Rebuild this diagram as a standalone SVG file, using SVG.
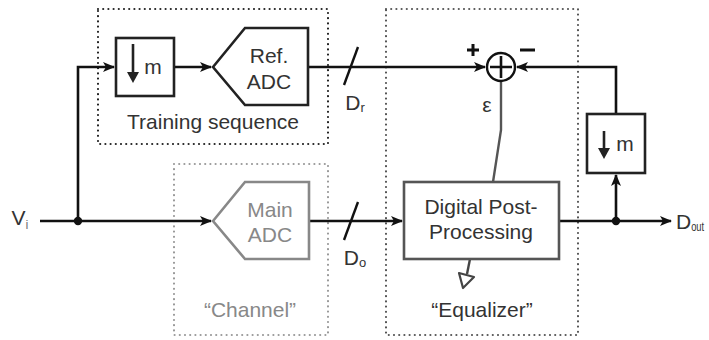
<svg xmlns="http://www.w3.org/2000/svg" width="709" height="340" viewBox="0 0 709 340">
  <defs>
    <marker id="arr" viewBox="0 0 12 10" refX="11" refY="5" markerWidth="12" markerHeight="10" markerUnits="userSpaceOnUse" orient="auto">
      <path d="M0,0 L12,5 L0,10 L3,5 Z" fill="#111"/>
    </marker>
    <style>
      .t { font-family: "Liberation Sans", Arial, sans-serif; font-size: 21px; fill: #333; text-anchor: middle; }
      .g { fill: #888; }
      .wire { fill: none; stroke: #111; stroke-width: 2.6; }
      .blk { fill: #fff; stroke: #222; stroke-width: 2.6; }
      .dot { fill: none; stroke-width: 2.2; stroke-linecap: round; stroke-dasharray: 0 5.2; }
    </style>
  </defs>

  <!-- dotted grouping frames -->
  <rect id="frame-training" class="dot" x="98" y="9" width="230" height="135" stroke="#222"/>
  <rect id="frame-channel" class="dot" x="174" y="164" width="154" height="171" stroke="#999"/>
  <rect id="frame-equalizer" class="dot" x="386" y="9" width="192" height="326" stroke="#555"/>
  <text class="t" x="213" y="129">Training sequence</text>
  <text class="t g" x="250" y="317">“Channel”</text>
  <text class="t" x="482" y="317">“Equalizer”</text>

  <!-- connectors -->
  <g id="connectors">
    <path class="wire" d="M40,221 H211" marker-end="url(#arr)"/>
    <path class="wire" d="M78,221 V67 H114" marker-end="url(#arr)"/>
    <path class="wire" d="M174,67 H211" marker-end="url(#arr)"/>
    <path class="wire" d="M308,67 H485" marker-end="url(#arr)"/>
    <path class="wire" d="M309,221 H402" marker-end="url(#arr)"/>
    <path class="wire" d="M559,221 H671" marker-end="url(#arr)"/>
    <path class="wire" d="M616,221 V175" marker-end="url(#arr)"/>
    <path class="wire" d="M616,114 V67 H517" marker-end="url(#arr)"/>
    <path d="M501,81 V130 L493,182" fill="none" stroke="#555" stroke-width="2.4"/>
    <!-- tap arrow out of the post-processor -->
    <path d="M470,259 L467,274" fill="none" stroke="#444" stroke-width="2.4"/>
    <path d="M459,273 L474,277 L463,288 Z" fill="#fff" stroke="#444" stroke-width="2.2" stroke-linejoin="round"/>
    <!-- bus slashes -->
    <path d="M358,47 L344,85" stroke="#111" stroke-width="2.4"/>
    <path d="M358,202 L344,240" stroke="#111" stroke-width="2.4"/>
    <circle cx="78" cy="221" r="4.2" fill="#111"/>
    <circle cx="616" cy="221" r="4.2" fill="#111"/>
  </g>

  <!-- signal labels -->
  <text class="t" x="20" y="225">V<tspan font-size="13" dy="4" fill="#777">i</tspan></text>
  <text class="t" x="355" y="110">D<tspan font-size="13" dy="2">r</tspan></text>
  <text class="t" x="355" y="265">D<tspan font-size="13" dy="2">o</tspan></text>
  <text class="t" x="676" y="229" style="text-anchor:start">D<tspan font-size="12" dy="2" textLength="13" lengthAdjust="spacingAndGlyphs">out</tspan></text>

  <g id="decim-ref">
    <rect class="blk" x="116" y="38" width="58" height="58"/>
    <path d="M133,44 V75" stroke="#222" stroke-width="2.6"/>
    <path d="M127,72 L133,83 L139,72 Z" fill="#222"/>
    <text class="t" x="153" y="74">m</text>
  </g>

  <g id="ref-adc">
    <path class="blk" d="M213,67 L245,28 H308 V105 H245 Z"/>
    <text class="t" x="269" y="63">Ref.</text>
    <text class="t" x="269" y="89">ADC</text>
  </g>

  <g id="main-adc">
    <path d="M213,221 L245,182 H309 V259 H245 Z" fill="#fff" stroke="#888" stroke-width="2.6"/>
    <text class="t g" x="270" y="217">Main</text>
    <text class="t g" x="270" y="242">ADC</text>
  </g>

  <g id="summer">
    <circle cx="501" cy="67" r="14" fill="#fff" stroke="#111" stroke-width="2.4"/>
    <path d="M490,67 H512 M501,56 V78" stroke="#111" stroke-width="2.6"/>
    <path d="M467,50 H479 M473,44 V56" stroke="#111" stroke-width="3"/>
    <path d="M520,50 H535" stroke="#111" stroke-width="3"/>
    <text class="t" x="487" y="112" font-size="18">ε</text>
  </g>

  <g id="post-processing">
    <rect x="404" y="182" width="155" height="77" fill="#fff" stroke="#555" stroke-width="2.6"/>
    <text class="t" x="481" y="214">Digital Post-</text>
    <text class="t" x="481" y="239">Processing</text>
  </g>

  <g id="decim-out">
    <rect class="blk" x="587" y="114" width="58" height="59"/>
    <path d="M604,131 V150" stroke="#222" stroke-width="2.6"/>
    <path d="M598,148 L604,159 L610,148 Z" fill="#222"/>
    <text class="t" x="625" y="151">m</text>
  </g>
</svg>
